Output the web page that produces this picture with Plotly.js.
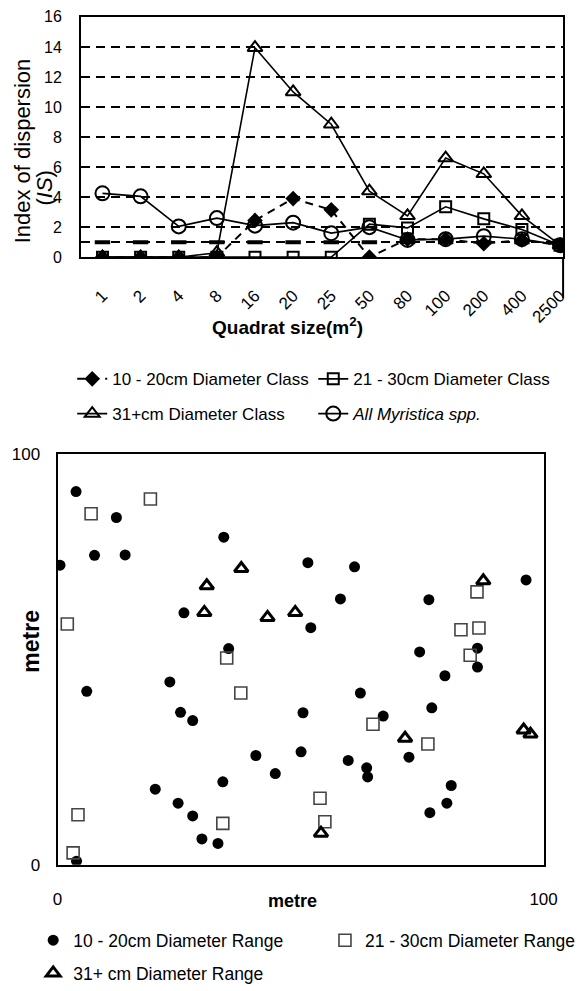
<!DOCTYPE html>
<html>
<head>
<meta charset="utf-8">
<script src="https://cdn.plot.ly/plotly-3.0.1.min.js"></script>
<style>
html,body{margin:0;padding:0;background:#fff;}
#chart{width:581px;height:991px;}
</style>
</head>
<body>
<div id="chart"></div>
<script>
// ---------- Top chart data: Index of dispersion vs quadrat size ----------
var quadratSizes = ['1','2','4','8','16','20','25','50','80','100','200','400','2500'];
var dia10to20 = [0, 0, 0, 0, 2.45, 3.9, 3.15, 0, 1.2, 1.2, 0.9, 1.15, 0.8];
var dia21to30 = [0, 0, 0, 0, 0, 0, 0, 2.2, 1.95, 3.35, 2.55, 1.85, 0.8];
var dia31plus = [0, 0, 0, 0.3, 13.95, 11.0, 8.85, 4.4, 2.75, 6.6, 5.55, 2.75, 0.8];
var allMyristica = [4.25, 4.05, 2.05, 2.6, 2.1, 2.3, 1.6, 2.0, 1.15, 1.2, 1.4, 1.2, 0.8];
var randomLevel = [1, 1, 1, 1, 1, 1, 1, 1, 1, 1, 1, 1, 1];
var topYTicks = [0, 1, 2, 4, 6, 8, 10, 12, 14, 16];
var topYTickText = ['0', '', '2', '4', '6', '8', '10', '12', '14', '16'];

// ---------- Bottom chart data: stem map (metre) ----------
var range10to20X = [3.8, 12.1, 7.6, 13.9, 0.5, 34.2, 26.0, 35.2, 23.1, 6.0, 51.5, 61.1, 58.2, 52.1, 76.4, 96.4, 74.5, 86.4, 86.4, 79.7, 62.3, 25.3, 27.8, 40.8, 44.8, 34.0, 20.1, 24.8, 27.8, 29.7, 33.0, 3.9, 77.0, 50.5, 67.0, 50.1, 59.8, 63.6, 63.8, 72.3, 81.0, 80.1, 76.6];
var range10to20Y = [90.8, 84.5, 75.3, 75.4, 72.9, 79.7, 61.3, 52.6, 44.5, 42.2, 73.5, 72.5, 64.7, 57.7, 64.5, 69.3, 51.8, 52.7, 48.1, 46.0, 41.8, 37.1, 35.1, 26.6, 22.2, 20.2, 18.4, 15.0, 11.9, 6.3, 5.2, 0.9, 38.2, 37.0, 36.2, 27.5, 25.4, 23.6, 21.4, 26.2, 19.3, 15.0, 12.7];
var range21to30X = [6.9, 19.1, 2.0, 34.8, 37.7, 86.3, 83.0, 86.7, 84.9, 64.9, 76.2, 54.0, 55.0, 4.2, 34.0, 3.2];
var range21to30Y = [85.4, 89.0, 58.6, 50.3, 41.8, 66.4, 57.2, 57.6, 51.0, 34.2, 29.4, 16.2, 10.5, 12.2, 10.1, 2.9];
var range31plusX = [37.8, 30.7, 30.2, 43.2, 48.9, 87.6, 71.5, 54.2, 95.9, 97.3];
var range31plusY = [72.1, 67.9, 61.4, 60.2, 61.4, 69.1, 30.8, 7.7, 32.8, 31.8];
var mapTicks = [0, 100];

var FONT = 'Liberation Sans, Arial, sans-serif';
var K = '#000';

var traces = [
  {x: quadratSizes, y: randomLevel, type: 'scatter', mode: 'markers', xaxis: 'x', yaxis: 'y',
   marker: {symbol: 'line-ew', size: 11, line: {color: K, width: 4}}, showlegend: false, hoverinfo: 'skip'},
  {x: quadratSizes, y: dia10to20, name: '10 - 20cm Diameter Class', type: 'scatter', mode: 'lines+markers',
   xaxis: 'x', yaxis: 'y', legend: 'legend',
   line: {color: K, width: 2, dash: '8px,6px'}, marker: {symbol: 'diamond', size: 12, color: K}},
  {x: quadratSizes, y: dia21to30, name: '21 - 30cm Diameter Class', type: 'scatter', mode: 'lines+markers',
   xaxis: 'x', yaxis: 'y', legend: 'legend3',
   line: {color: K, width: 1.6}, marker: {symbol: 'square-open', size: 11, color: K, line: {width: 2}}},
  {x: quadratSizes, y: dia31plus, name: '31+cm Diameter Class', type: 'scatter', mode: 'lines+markers',
   xaxis: 'x', yaxis: 'y', legend: 'legend5',
   line: {color: K, width: 1.6}, marker: {symbol: 'triangle-up-open', size: 13, color: K, line: {width: 2}}},
  {x: quadratSizes, y: allMyristica, name: '<i>All Myristica spp.</i>', type: 'scatter', mode: 'lines+markers',
   xaxis: 'x', yaxis: 'y', legend: 'legend6',
   line: {color: K, width: 1.6}, marker: {symbol: 'circle-open', size: 14, color: K, line: {width: 2}}},

  {x: range10to20X, y: range10to20Y, name: '10 - 20cm Diameter Range', type: 'scatter', mode: 'markers',
   xaxis: 'x2', yaxis: 'y2', legend: 'legend2',
   marker: {symbol: 'circle', size: 11, color: K}},
  {x: range21to30X, y: range21to30Y, name: '21 - 30cm Diameter Range', type: 'scatter', mode: 'markers',
   xaxis: 'x2', yaxis: 'y2', legend: 'legend4',
   marker: {symbol: 'square-open', size: 12, color: '#444', line: {width: 1.6}}},
  {x: range31plusX, y: range31plusY, name: '31+ cm Diameter Range', type: 'scatter', mode: 'markers',
   xaxis: 'x2', yaxis: 'y2', legend: 'legend7',
   marker: {symbol: 'triangle-up-open', size: 12, color: K, line: {width: 3}}}
];

var W = 581, H = 991;
function px(v){ return v / W; }
function py(v){ return (H - v) / H; }

var topLegendFont = {family: FONT, size: 17, color: K};
var mapLegendFont = {family: FONT, size: 17.5, color: K};
function leg(xPix, yPix, f){
  return {x: px(xPix), y: py(yPix), xanchor: 'left', yanchor: 'middle', orientation: 'h',
    font: f, bgcolor: 'rgba(0,0,0,0)', borderwidth: 0};
}

var layout = {
  width: W, height: H,
  margin: {l: 0, r: 0, t: 0, b: 0},
  paper_bgcolor: '#fff', plot_bgcolor: '#fff',
  font: {family: FONT, color: K},
  xaxis: {
    domain: [px(83), px(577)], anchor: 'y', type: 'category',
    range: [-0.563, 12.08],
    showline: true, linecolor: K, linewidth: 2, mirror: true,
    showgrid: false, zeroline: false, ticks: '', ticklabelstandoff: 20,
    tickangle: -45, tickfont: {family: FONT, size: 17, color: K}
  },
  yaxis: {
    domain: [py(259), py(17)], anchor: 'x',
    range: [0, 16], tickvals: topYTicks, ticktext: topYTickText,
    showline: true, linecolor: K, linewidth: 2, mirror: true,
    showgrid: true, gridcolor: K, gridwidth: 2.5, griddash: '9px,6px',
    zeroline: false, ticks: '', ticklabelstandoff: 14,
    tickfont: {family: FONT, size: 16, color: K}
  },
  xaxis2: {
    domain: [px(59), px(557)], anchor: 'y2',
    range: [0, 100], tickvals: mapTicks,
    showline: true, linecolor: K, linewidth: 2, mirror: true,
    showgrid: false, zeroline: false, ticks: '', ticklabelstandoff: 18,
    tickfont: {family: FONT, size: 17, color: K}
  },
  yaxis2: {
    domain: [py(871), py(457)], anchor: 'x2',
    range: [0, 100], tickvals: mapTicks,
    showline: true, linecolor: K, linewidth: 2, mirror: true,
    showgrid: false, zeroline: false, ticks: '', ticklabelstandoff: 12,
    tickfont: {family: FONT, size: 17, color: K}
  },
  legend: leg(74, 382, topLegendFont),
  legend3: leg(321, 382, topLegendFont),
  legend5: leg(74, 417, topLegendFont),
  legend6: leg(321, 417, topLegendFont),
  legend2: leg(34, 947, mapLegendFont),
  legend4: leg(333, 947, mapLegendFont),
  legend7: leg(34, 980, mapLegendFont),
  showlegend: true,
  annotations: [
    {text: 'Index of dispersion', textangle: -90, xref: 'paper', yref: 'paper',
     x: px(23), y: py(152), xanchor: 'center', yanchor: 'middle', showarrow: false,
     font: {family: FONT, size: 22, color: K}},
    {text: '(<i>IS</i>)', textangle: -90, xref: 'paper', yref: 'paper',
     x: px(46), y: py(189), xanchor: 'center', yanchor: 'middle', showarrow: false,
     font: {family: FONT, size: 22, color: K}},
    {text: '<b>Quadrat size(m<sup>2</sup>)</b>', xref: 'paper', yref: 'paper',
     x: px(295), y: py(328), xanchor: 'center', yanchor: 'middle', showarrow: false,
     font: {family: FONT, size: 19, color: K}},
    {text: '<b>metre</b>', xref: 'paper', yref: 'paper',
     x: px(300), y: py(907), xanchor: 'center', yanchor: 'middle', showarrow: false,
     font: {family: FONT, size: 18, color: K}},
    {text: '<b>metre</b>', textangle: -90, xref: 'paper', yref: 'paper',
     x: px(32), y: py(646), xanchor: 'center', yanchor: 'middle', showarrow: false,
     font: {family: FONT, size: 23, color: K}}
  ],
  shapes: [
    {type: 'line', xref: 'x domain', yref: 'y domain', x0: 1, x1: 1, y0: 0, y1: -0.17,
     line: {color: K, width: 2}}
  ]
};

Plotly.newPlot('chart', traces, layout, {displayModeBar: false, staticPlot: true});
</script>
</body>
</html>
